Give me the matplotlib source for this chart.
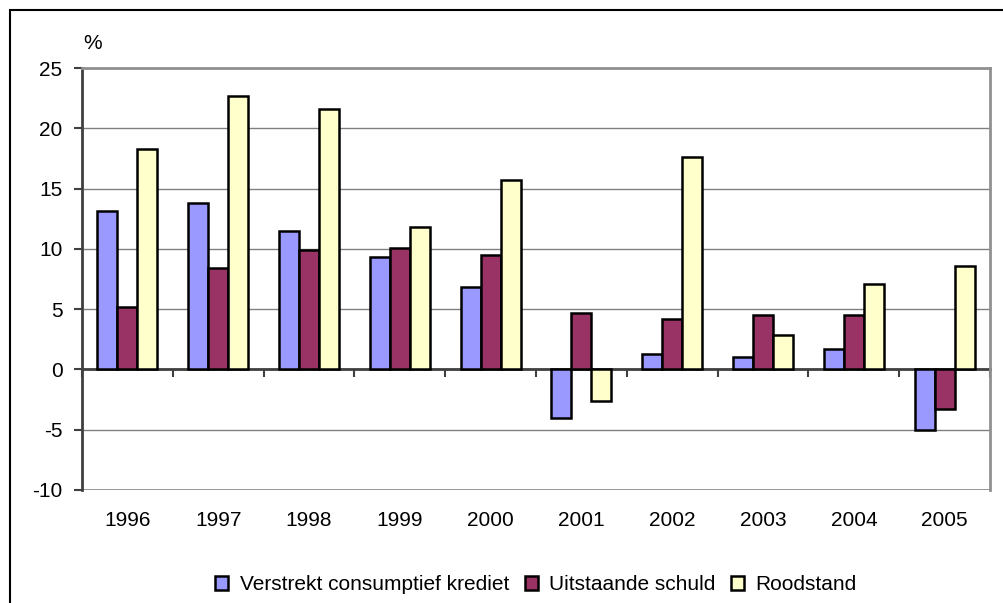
import numpy as np
import matplotlib
matplotlib.use("Agg")
import matplotlib.pyplot as plt
from matplotlib.patches import Rectangle

#%% --- Data ---
years = ["1996", "1997", "1998", "1999", "2000", "2001", "2002", "2003", "2004", "2005"]
verstrekt = [13.1, 13.8, 11.5, 9.3, 6.8, -4.0, 1.3, 1.0, 1.7, -5.0]
uitstaand = [5.15, 8.45, 9.9, 10.1, 9.45, 4.65, 4.15, 4.5, 4.5, -3.3]
roodstand = [18.3, 22.7, 21.6, 11.8, 15.7, -2.65, 17.6, 2.85, 7.1, 8.6]
series_names = ["Verstrekt consumptief krediet", "Uitstaande schuld", "Roodstand"]
y_ticks = [-10, -5, 0, 5, 10, 15, 20, 25]

#%% --- Style ---
color_blue = "#9999FF"
color_plum = "#993366"
color_cream = "#FFFFCC"
color_grid = "#808080"
color_axis = "#404040"
fsize = 15
plt.rcParams["font.family"] = ["Liberation Sans", "DejaVu Sans"]

fig = plt.figure(figsize=(10.04, 6.03), dpi=100)
ax = fig.add_axes([0.0817, 0.1874, 0.9044, 0.6998])

# outer chart frame (cropped on right/bottom)
fig.patches.append(Rectangle((10 / 1004, -0.1), 1.2, 1 - 10 / 603 + 0.1,
                             transform=fig.transFigure, fill=False,
                             edgecolor="black", linewidth=1.5, zorder=0))

#%% --- Bars ---
x = np.arange(len(years))
width = 0.22
for offset, vals, col, name in zip([-width, 0, width],
                                   [verstrekt, uitstaand, roodstand],
                                   [color_blue, color_plum, color_cream],
                                   series_names):
    ax.bar(x + offset, vals, width=width, color=col, edgecolor="black",
           linewidth=1.8, label=name, zorder=3)

#%% --- Axes ---
ax.set_xlim(-0.5, len(years) - 0.5)
ax.set_ylim(min(y_ticks), max(y_ticks))
ax.set_yticks(y_ticks)
ax.set_yticklabels([str(t) for t in y_ticks], fontsize=fsize)
ax.tick_params(axis="y", length=6, width=1.5, color=color_axis, pad=8)
ax.yaxis.grid(True, color=color_grid, linewidth=1)
ax.set_axisbelow(True)

ax.spines["left"].set_color(color_axis)
ax.spines["left"].set_linewidth(2)
for side in ["top", "right"]:
    ax.spines[side].set_color("#909090")
    ax.spines[side].set_linewidth(2)
ax.spines["bottom"].set_position(("data", 0))
ax.spines["bottom"].set_color(color_axis)
ax.spines["bottom"].set_linewidth(2)
ax.spines["bottom"].set_zorder(2)
ax.axhline(min(y_ticks), color="#909090", linewidth=2, zorder=2)

ax.set_xticks(np.arange(len(years) + 1) - 0.5)
ax.set_xticklabels([])
ax.tick_params(axis="x", length=6, width=1.5, color=color_axis)

for xi, yr in zip(x, years):
    ax.annotate(yr, xy=(xi, 0), xycoords=ax.get_xaxis_transform(),
                xytext=(0, -31), textcoords="offset pixels",
                ha="center", va="center", fontsize=fsize)

ax.annotate("%", xy=(0, 1), xycoords="axes fraction", xytext=(11, 25),
            textcoords="offset pixels", ha="center", va="center", fontsize=fsize)

#%% --- Legend ---
ax.legend(loc="center", bbox_to_anchor=(0.5, -0.225), ncol=3, frameon=False,
          fontsize=fsize, handlelength=0.62, handleheight=0.62, handletextpad=0.55,
          columnspacing=0.75, borderaxespad=0)

fig.savefig("out.png", dpi=100, facecolor="white")
